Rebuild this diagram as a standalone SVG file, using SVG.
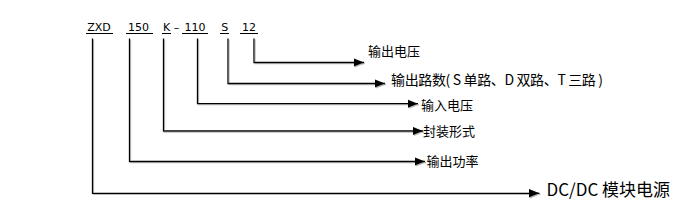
<svg xmlns="http://www.w3.org/2000/svg" width="690" height="210" viewBox="0 0 690 210">
  <style>
    .code { font-family: "DejaVu Sans", "Liberation Sans", sans-serif; font-size: 11px; fill: #000; text-anchor: middle; }
    .ul { stroke: #000; stroke-width: 1; }
    .lbl { font-family: "Noto Sans CJK SC", "Noto Sans", sans-serif; font-size: 13px; fill: #000; }
    .big { font-family: "Noto Sans CJK SC", "Noto Sans", sans-serif; font-size: 17px; fill: #000; }
    .conn { fill: none; stroke: #000; stroke-width: 1.3; marker-end: url(#arrow); }
  </style>
  <defs>
    <marker id="arrow" markerUnits="userSpaceOnUse" markerWidth="11" markerHeight="9" refX="10.5" refY="4.25" orient="auto">
      <path d="M0,0 L10.5,4.25 L0,8.5 Z" fill="#000"/>
    </marker>
    <filter id="shadow" x="-5%" y="-5%" width="110%" height="120%">
      <feDropShadow dx="1" dy="1" stdDeviation="0.3" flood-color="#888" flood-opacity="0.6"/>
    </filter>
  </defs>
  <rect width="690" height="210" fill="#fff"/>

  <g id="code-zxd">
    <text class="code" x="99" y="30.5">ZXD</text>
    <line class="ul" x1="86" y1="33.5" x2="113" y2="33.5"/>
  </g>
  <g id="code-150">
    <text class="code" x="138.5" y="30.5">150</text>
    <line class="ul" x1="126" y1="33.5" x2="153" y2="33.5"/>
  </g>
  <g id="code-k">
    <text class="code" x="166.5" y="30.5">K</text>
    <line class="ul" x1="162" y1="33.5" x2="171" y2="33.5"/>
    <text class="code" x="176.5" y="30.5">–</text>
  </g>
  <g id="code-110">
    <text class="code" x="195" y="30.5">110</text>
    <line class="ul" x1="182" y1="33.5" x2="208" y2="33.5"/>
  </g>
  <g id="code-s">
    <text class="code" x="224.7" y="30.5">S</text>
    <line class="ul" x1="220" y1="33.5" x2="229" y2="33.5"/>
  </g>
  <g id="code-12">
    <text class="code" x="249" y="30.5">12</text>
    <line class="ul" x1="240" y1="33.5" x2="258" y2="33.5"/>
  </g>

  <g id="connectors" filter="url(#shadow)">
    <path class="conn" d="M254,38.5 V62.5 H364"/>
    <path class="conn" d="M228,38.5 V83.5 H385"/>
    <path class="conn" d="M197.5,38.5 V103.7 H418"/>
    <path class="conn" d="M163.5,38.5 V131 H423"/>
    <path class="conn" d="M129.5,38.5 V161.5 H425"/>
    <path class="conn" d="M92.5,38.5 V193.3 H539.5"/>
  </g>

  <g id="label-output-voltage">
    <text class="lbl" x="368" y="56">输出电压</text>
  </g>
  <g id="label-output-channels">
    <text class="lbl" x="391" y="84.5" style="font-size:14px" textLength="212" lengthAdjust="spacing">输出路数( S 单路、D 双路、T 三路 )</text>
  </g>
  <g id="label-input-voltage">
    <text class="lbl" x="421" y="109.5">输入电压</text>
  </g>
  <g id="label-package">
    <text class="lbl" x="423" y="136">封装形式</text>
  </g>
  <g id="label-output-power">
    <text class="lbl" x="426.5" y="166">输出功率</text>
  </g>
  <g id="label-module">
    <text class="big" x="546.5" y="195.7">DC/DC 模块电源</text>
  </g>
</svg>
